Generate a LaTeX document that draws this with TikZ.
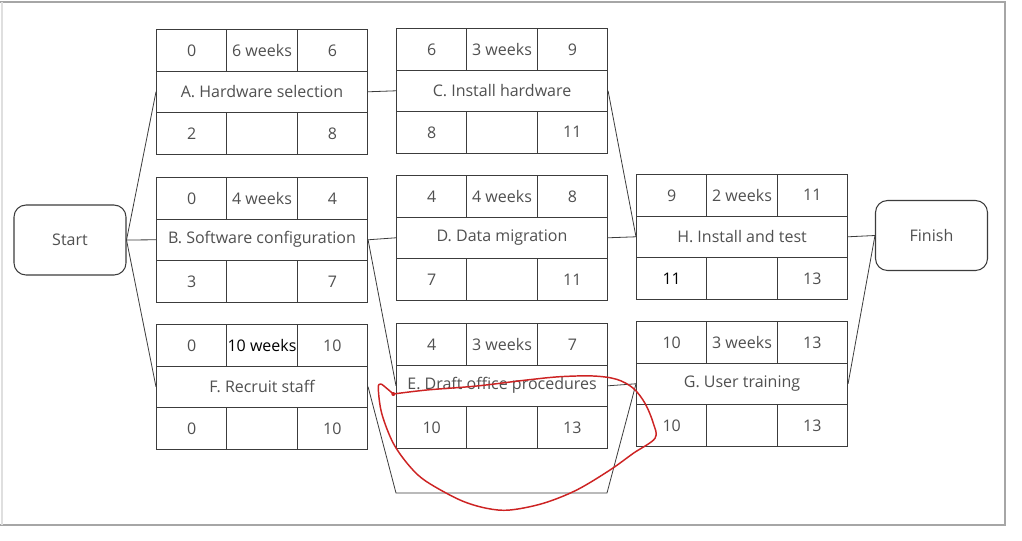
\documentclass[tikz,border=0pt]{standalone}
\usepackage{fontspec}
\setmainfont{Open Sans}
\usetikzlibrary{calc}
\definecolor{txt}{HTML}{505050}
\definecolor{ln}{HTML}{3C3C3C}
\definecolor{pen}{RGB}{205,35,35}
\tikzset{
  lbl/.style={text=txt, font=\fontsize{12}{14}\selectfont},
  cell/.style={lbl, draw=ln, line width=0.8pt, minimum width=52.75pt, minimum height=31.125pt, inner sep=0pt, anchor=north west},
  midrow/.style={cell, minimum width=158.25pt},
  term/.style={lbl, draw=ln, line width=0.8pt, rounded corners=9pt, minimum width=84pt, minimum height=52.5pt, inner sep=0pt},
  link/.style={draw=ln, line width=0.6pt},
  penloop/.style={draw=pen, line width=1.1pt, line cap=round, line join=round},
}
% #1 name, #2 left x, #3 top y, #4 ES, #5 duration, #6 EF, #7 label, #8 LS, #9 LF
\newcommand\activitybox[9]{%
  \node[cell] (#1tl) at (#2,#3) {#4};
  \node[cell] (#1tm) at (#2+70.33,#3) {#5};
  \node[cell] (#1tr) at (#2+140.67,#3) {#6};
  \node[midrow] (#1) at (#2,#3+41.5) {#7};
  \node[cell] (#1bl) at (#2,#3+83) {#8};
  \node[cell] (#1bm) at (#2+70.33,#3+83) {};
  \node[cell] (#1br) at (#2+140.67,#3+83) {#9};
}
\begin{document}
\begin{tikzpicture}[x=0.75pt, y=-0.75pt]
\fill[white] (0,0) rectangle (1022,540);
\useasboundingbox (0,0) rectangle (1022,540);
% scan frame
\draw[gray!70, line width=1.2pt] (0,2) -- (1005,2) -- (1005,525) -- (0,525);
\draw[gray!25, line width=0.8pt] (2,2) -- (2,525);

\node[term] (Start) at (70,240) {Start};
\node[term] (Finish) at (931.5,235.5) {Finish};

\activitybox{A}{156}{29}{0}{6 weeks}{6}{A. Hardware selection}{2}{8}
\activitybox{B}{156}{177}{0}{4 weeks}{4}{B. Software configuration}{3}{7}
\activitybox{F}{156}{324}{0}{\textcolor{black}{10 weeks}}{10}{F. Recruit staff}{0}{10}
\activitybox{C}{396}{28}{6}{3 weeks}{9}{C. Install hardware}{8}{11}
\activitybox{D}{396}{175}{4}{4 weeks}{8}{D. Data migration}{7}{11}
\activitybox{E}{396}{323}{4}{3 weeks}{7}{E. Draft office procedures}{10}{13}
\activitybox{H}{636}{174}{9}{2 weeks}{11}{H. Install and test}{\textcolor{black}{11}}{13}
\activitybox{G}{636}{321}{10}{3 weeks}{13}{G. User training}{10}{13}

\coordinate (fd1) at (396,493);
\coordinate (fd2) at (607,493);

\draw[link] (Start.east) -- (A.west);
\draw[link] (Start.east) -- (B.west);
\draw[link] (Start.east) -- (F.west);
\draw[link] (A.east) -- (C.west);
\draw[link] (B.east) -- (D.west);
\draw[link] (B.east) -- (E.west);
\draw[link] (F.east) -- (fd1) -- (fd2) -- (G.west);
\draw[link] (C.east) -- (H.west);
\draw[link] (D.east) -- (H.west);
\draw[link] (E.east) -- (G.west);
\draw[link] (H.east) -- (Finish.west);
\draw[link] (G.east) -- (Finish.west);

% red hand-drawn loop
\draw[penloop] plot[smooth, tension=0.55] coordinates {
 (393.3,394) (426.7,390) (476.7,386) (526.7,380) (560,376.7) (593.3,376)
 (616.7,379.3) (633.3,388.3) (645,403.3) (653.3,423.3) (655,438.3)
 (633.3,453.3) (610,470) (576.7,490) (543.3,503.3) (510,510) (486.7,508.3)
 (460,500) (426.7,481.7) (410,466.7) (393.3,443.3) (381.7,413.3)
 (378.3,388.3) (380.7,384) (386.7,388.3) (393.3,394)};
\fill[pen] (393.3,394) circle (2);
\end{tikzpicture}
\end{document}
